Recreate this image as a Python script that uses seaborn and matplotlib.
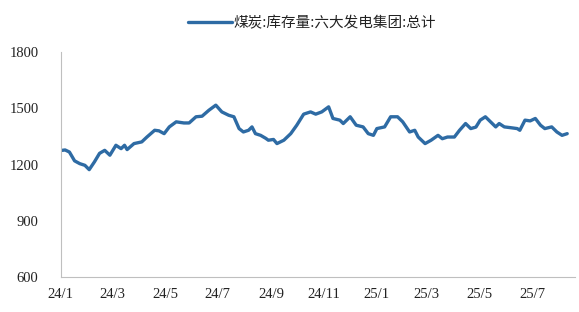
import pandas as pd
import matplotlib
matplotlib.use("Agg")
import matplotlib.pyplot as plt
import seaborn as sns

dates = [
    "2024-01-01", "2024-01-06", "2024-01-11", "2024-01-17", "2024-01-23", "2024-01-29",
    "2024-02-03", "2024-02-09", "2024-02-15", "2024-02-21", "2024-02-27", "2024-03-05",
    "2024-03-11", "2024-03-15", "2024-03-18", "2024-03-26", "2024-04-04", "2024-04-10",
    "2024-04-19", "2024-04-24", "2024-04-30", "2024-05-06", "2024-05-14", "2024-05-23",
    "2024-05-29", "2024-06-06", "2024-06-13", "2024-06-21", "2024-06-29", "2024-07-06",
    "2024-07-14", "2024-07-20", "2024-07-26", "2024-07-31", "2024-08-06", "2024-08-10",
    "2024-08-14", "2024-08-20", "2024-08-26", "2024-08-29", "2024-09-04", "2024-09-08",
    "2024-09-16", "2024-09-24", "2024-10-01", "2024-10-09", "2024-10-17", "2024-10-23",
    "2024-10-30", "2024-11-07", "2024-11-12", "2024-11-20", "2024-11-24", "2024-12-02",
    "2024-12-09", "2024-12-17", "2024-12-23", "2024-12-29", "2025-01-02", "2025-01-11",
    "2025-01-18", "2025-01-26", "2025-02-01", "2025-02-09", "2025-02-15", "2025-02-19",
    "2025-02-27", "2025-03-06", "2025-03-14", "2025-03-19", "2025-03-25", "2025-04-02",
    "2025-04-08", "2025-04-15", "2025-04-21", "2025-04-27", "2025-05-02", "2025-05-08",
    "2025-05-14", "2025-05-20", "2025-05-24", "2025-05-30", "2025-06-06", "2025-06-14",
    "2025-06-17", "2025-06-23", "2025-06-29", "2025-07-05", "2025-07-11", "2025-07-16",
    "2025-07-24", "2025-07-30", "2025-08-05", "2025-08-11",
]
stock = [
    1275, 1278, 1267, 1220, 1205, 1196,
    1173, 1214, 1260, 1276, 1250, 1303,
    1285, 1303, 1280, 1312, 1321, 1347,
    1383, 1380, 1365, 1401, 1428, 1422,
    1422, 1455, 1458, 1490, 1517, 1481,
    1463, 1455, 1392, 1374, 1383, 1401,
    1365, 1356, 1340, 1330, 1334, 1312,
    1330, 1365, 1410, 1469, 1481, 1469,
    1481, 1508, 1446, 1437, 1419, 1455,
    1410, 1401, 1365, 1356, 1392, 1401,
    1455, 1455, 1428, 1374, 1383, 1347,
    1312, 1330, 1356, 1338, 1347, 1347,
    1383, 1419, 1392, 1400, 1437, 1455,
    1428, 1401, 1419, 1401, 1397, 1392,
    1383, 1437, 1433, 1446, 1410, 1392,
    1401, 1374, 1356, 1365,
]
series_name = "煤炭:库存量:六大发电集团:总计"
x_ticks = ["2024-01-01", "2024-03-01", "2024-05-01", "2024-07-01", "2024-09-01",
           "2024-11-01", "2025-01-01", "2025-03-01", "2025-05-01", "2025-07-01"]
x_labels = ["24/1", "24/3", "24/5", "24/7", "24/9", "24/11", "25/1", "25/3", "25/5", "25/7"]
y_ticks = [600, 900, 1200, 1500, 1800]

df = pd.DataFrame({"date": pd.to_datetime(dates), "value": stock, "series": series_name})

sns.set_theme(style="white")
plt.rcParams["font.family"] = ["Liberation Serif", "Noto Sans CJK SC", "DejaVu Sans"]

fig = plt.figure(figsize=(5.79, 3.12), dpi=100)
ax = fig.add_axes([0.105, 0.112, 0.888, 0.721])

sns.lineplot(data=df, x="date", y="value", hue="series", palette=["#2E6BA4"],
             linewidth=2.4, ax=ax)

ax.set_xlim(pd.Timestamp("2024-01-01"), pd.Timestamp("2025-08-20"))
ax.set_ylim(600, 1800)
ax.set_yticks(y_ticks)
ax.set_yticklabels([str(v) for v in y_ticks], fontsize=10.5, color="#222222",
                   family="Liberation Serif")
ax.set_xticks(pd.to_datetime(x_ticks))
ax.set_xticklabels(x_labels, fontsize=10.5, color="#222222", family="Liberation Serif")
ax.set_xlabel("")
ax.set_ylabel("")

for s in ["top", "right"]:
    ax.spines[s].set_visible(False)
for s in ["left", "bottom"]:
    ax.spines[s].set_color("#BFBFBF")
    ax.spines[s].set_linewidth(0.8)
ax.tick_params(axis="y", direction="in", length=3, color="#BFBFBF", width=0.8, pad=16)
ax.tick_params(axis="x", direction="in", length=3, color="#BFBFBF", width=0.8, pad=8)

leg = ax.legend(loc="center", bbox_to_anchor=(312 / 579, 1 - 23 / 312),
                bbox_transform=fig.transFigure, frameon=False,
                handlelength=3.0, handletextpad=0.15,
                prop={"family": "Noto Sans CJK SC", "size": 10.5})
for t in leg.get_texts():
    t.set_color("#222222")

fig.savefig("out.png", dpi=100)
